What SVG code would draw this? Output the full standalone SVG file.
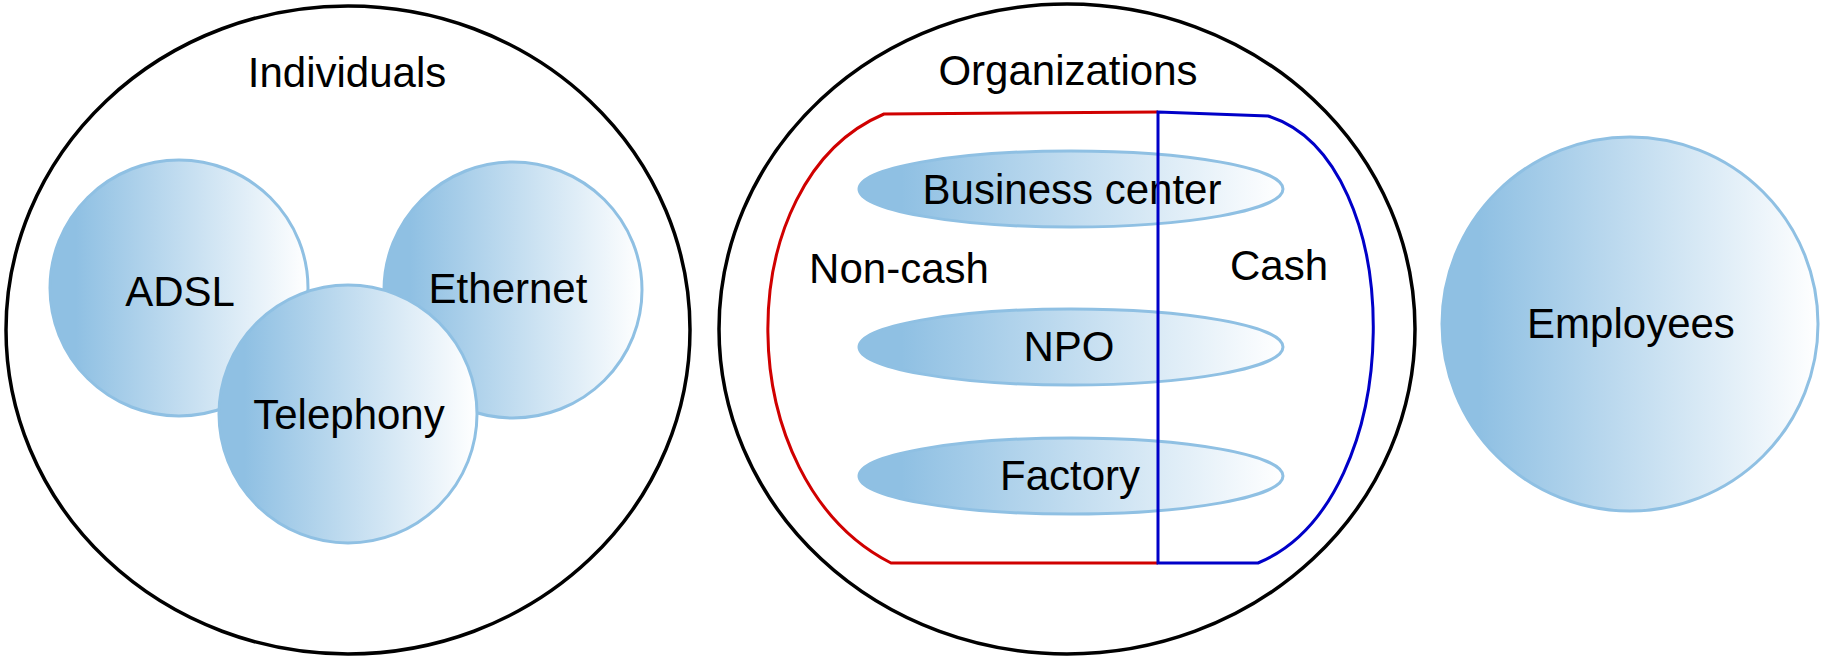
<svg xmlns="http://www.w3.org/2000/svg" width="1824" height="659" viewBox="0 0 1824 659">
<style>
.big{fill:none;stroke:#000;stroke-width:3.5}
.b{fill:url(#g);stroke:#8fc0e3;stroke-width:3}
text{font-family:"Liberation Sans",Arial,sans-serif;font-size:42px;fill:#000;text-anchor:middle;dominant-baseline:central}
</style>
<defs><linearGradient id="g" x1="0" x2="1" y1="0" y2="0"><stop offset="0.1" stop-color="#8fc0e3"/><stop offset="1" stop-color="#ffffff"/></linearGradient></defs>
<g id="individuals"><ellipse class="big" cx="348" cy="330" rx="342" ry="324"/><text x="347" y="72">Individuals</text></g>
<g id="adsl"><ellipse class="b" cx="179" cy="288" rx="129" ry="128"/><text x="180" y="291">ADSL</text></g>
<g id="ethernet"><ellipse class="b" cx="513" cy="290" rx="129" ry="128"/><text x="508" y="288">Ethernet</text></g>
<g id="telephony"><ellipse class="b" cx="348" cy="414" rx="129" ry="129"/><text x="349" y="414">Telephony</text></g>
<g id="organizations"><ellipse class="big" cx="1067" cy="329" rx="348" ry="325"/><text x="1068" y="70">Organizations</text></g>
<g id="noncash"><path d="M1158,112 L884,114 C728,180 728,480 891,563 L1158,563" fill="none" stroke="#d00000" stroke-width="3"/><text x="899" y="268">Non-cash</text></g>
<g id="business"><ellipse class="b" cx="1071" cy="189" rx="212" ry="38"/><text x="1072" y="189">Business center</text></g>
<g id="npo"><ellipse class="b" cx="1071" cy="347" rx="212" ry="38"/><text x="1069" y="346">NPO</text></g>
<g id="factory"><ellipse class="b" cx="1071" cy="476" rx="212" ry="38"/><text x="1070" y="475">Factory</text></g>
<g id="cash"><path d="M1158,112 L1268,116 C1410,160 1410,500 1258,563 L1158,563 Z" fill="none" stroke="#0000c8" stroke-width="3"/><text x="1279" y="265">Cash</text></g>
<g id="employees"><ellipse class="b" cx="1630" cy="324" rx="188" ry="187"/><text x="1631" y="323">Employees</text></g>
<g id="connectors"/>
</svg>
